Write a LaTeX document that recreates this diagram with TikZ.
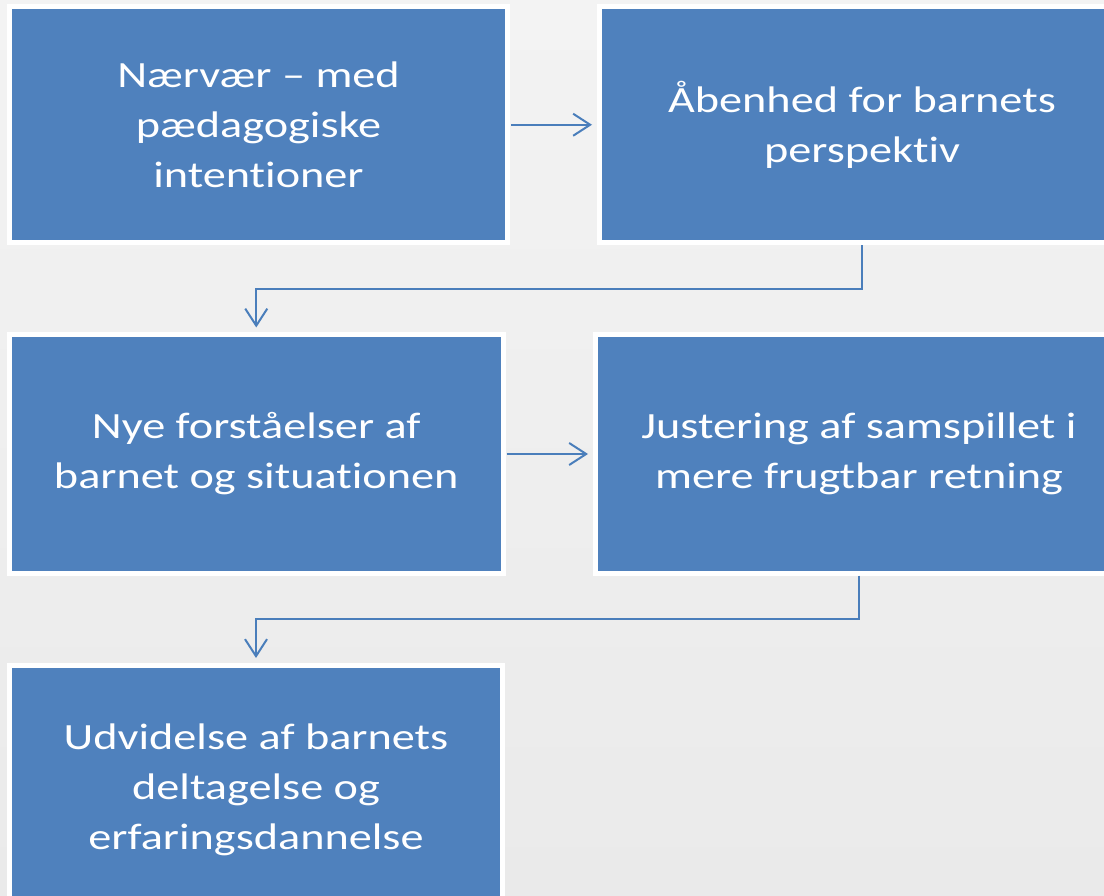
\documentclass[tikz,border=0pt]{standalone}
\usepackage{fontspec}
\setmainfont[FakeStretch=1.25, Ligatures=NoCommon]{Carlito}
\usetikzlibrary{arrows.meta}
\definecolor{boxblue}{HTML}{4F81BD}
\definecolor{lineblue}{HTML}{4A7EBB}
\definecolor{bgtop}{HTML}{F3F3F3}
\definecolor{bgbot}{HTML}{EAEAEA}
\tikzset{
  flowbox/.style={rectangle, draw=white, line width=5pt, fill=boxblue,
    text=white, align=center, inner sep=0pt,
    font=\fontsize{37pt}{50pt}\selectfont},
  conn/.style={draw=lineblue, line width=2pt,
    -{Straight Barb[length=17pt,width=22pt,line width=2pt]}}
}
\begin{document}
\begin{tikzpicture}[x=1pt,y=-1pt]
\useasboundingbox (0,0) rectangle (1104,896);
\shade[top color=bgtop, bottom color=bgbot] (0,0) rectangle (1104,896);
\begin{scope}
\clip (0,0) rectangle (1104,896);
\node[flowbox, minimum width=498pt, minimum height=236.5pt] (box1) at (258.5,124.75)
  {Nærvær – med\\pædagogiske\\intentioner};
\node[flowbox, minimum width=525pt, minimum height=236.5pt] (box2) at (862,124.75)
  {Åbenhed for barnets\\perspektiv};
\node[flowbox, minimum width=493.5pt, minimum height=238pt] (box3) at (256.25,454)
  {Nye forståelser af\\barnet og situationen};
\node[flowbox, minimum width=527pt, minimum height=238pt] (box4) at (859,454)
  {Justering af samspillet i\\mere frugtbar retning};
\node[flowbox, minimum width=493pt, minimum height=249pt] (box5) at (256,789.5)
  {Udvidelse af barnets\\deltagelse og\\erfaringsdannelse};
\end{scope}
\draw[conn, shorten <=1pt, shorten >=5pt] (box1.east) -- (box2.west);
\draw[conn, shorten >=5pt] (box2.south) -- (box2.south |- 0,289) -| (box3.north);
\draw[conn, shorten <=1pt, shorten >=5pt] (box3.east) -- (box4.west);
\draw[conn, shorten >=4.5pt] (box4.south) -- (box4.south |- 0,619) -| (box5.north);
\end{tikzpicture}
\end{document}
